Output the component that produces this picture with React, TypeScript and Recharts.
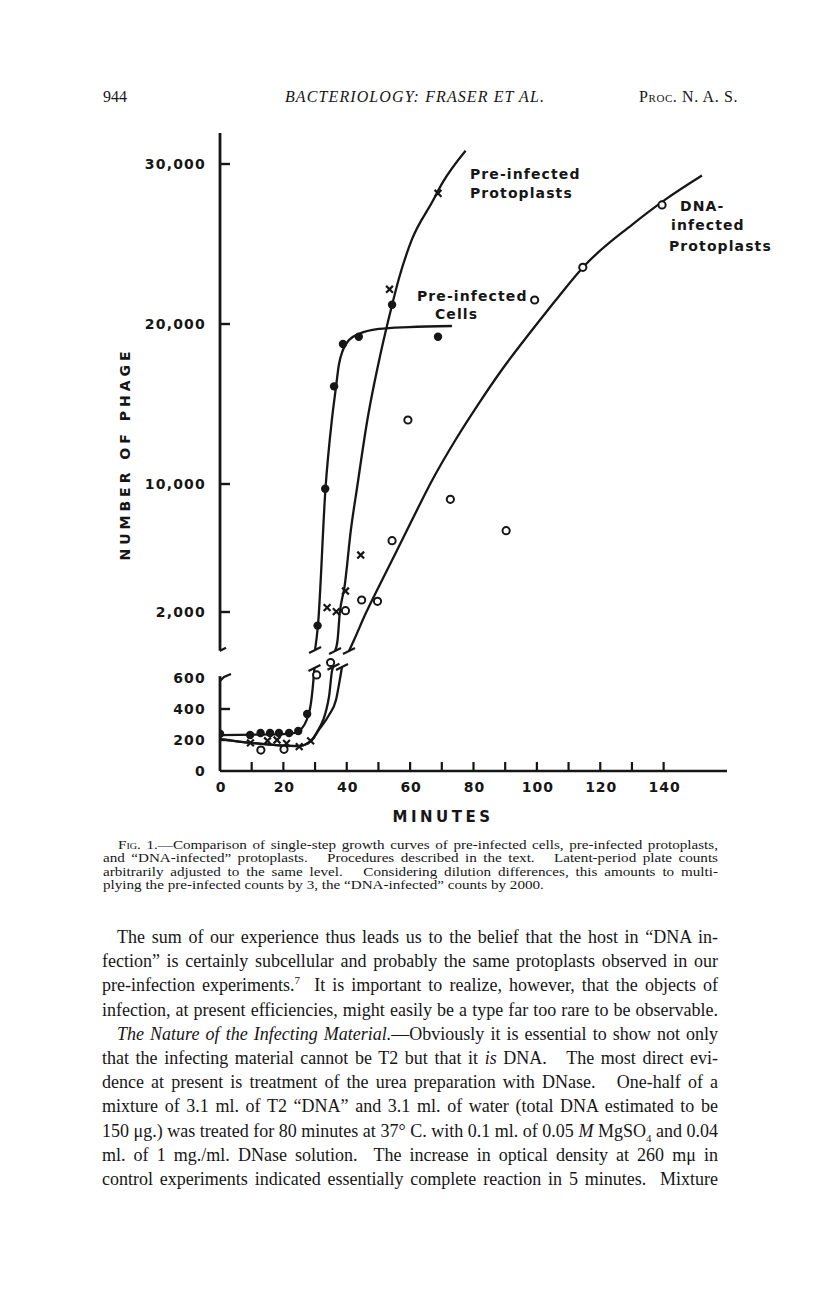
import React from "react";
import { ComposedChart, Line, Scatter, XAxis, YAxis, ReferenceLine } from "recharts";

const INK = "#161616";
const LETTER = '"DejaVu Sans", Verdana, sans-serif';
const SERIF = '"Liberation Serif", "Times New Roman", serif';

// axis ticks (minutes / number of phage)
const xTicks = [0, 10, 20, 30, 40, 50, 60, 70, 80, 90, 100, 110, 120, 130, 140];
const yTickValues = [0, 200, 400, 600, 2000, 10000, 20000, 30000];
const yTickLabels = ["0", "200", "400", "600", "2,000", "10,000", "20,000", "30,000"];

// measured points, lower panel (0..600) and upper panel (2,000..30,000)
const cellsLow = [
  { min: 0, n: 240 }, { min: 9.5, n: 232 }, { min: 12.8, n: 245 }, { min: 15.8, n: 245 },
  { min: 18.6, n: 245 }, { min: 21.8, n: 245 }, { min: 24.7, n: 258 }, { min: 27.5, n: 368 },
];
const cellsHigh = [
  { min: 30.8, n: 1150 }, { min: 33.2, n: 9700 }, { min: 36.0, n: 16100 }, { min: 38.8, n: 18750 },
  { min: 43.8, n: 19200 }, { min: 54.3, n: 21200 }, { min: 68.8, n: 19200 },
];
const protoLow = [
  { min: 9.6, n: 181 }, { min: 15, n: 195 }, { min: 18, n: 200 }, { min: 21, n: 178 },
  { min: 25, n: 157 }, { min: 28.6, n: 194 },
];
const protoHigh = [
  { min: 33.8, n: 2270 }, { min: 36.7, n: 2020 }, { min: 39.6, n: 3310 }, { min: 44.4, n: 5560 },
  { min: 53.5, n: 22170 }, { min: 68.8, n: 28170 },
];
const dnaLow = [{ min: 12.9, n: 135 }, { min: 20.2, n: 140 }, { min: 30.5, n: 620 }, { min: 34.9, n: 700 }];
const dnaHigh = [
  { min: 39.6, n: 2080 }, { min: 44.7, n: 2750 }, { min: 49.7, n: 2670 }, { min: 54.3, n: 6460 },
  { min: 59.3, n: 14000 }, { min: 72.7, n: 9040 }, { min: 90.3, n: 7080 }, { min: 99.3, n: 21500 },
  { min: 114.5, n: 23540 }, { min: 139.5, n: 27440 },
];

// hand-drawn fitted curves
const cellsCurveLow = [
  { min: 0, n: 232 }, { min: 21.8, n: 239 }, { min: 24.9, n: 258 }, { min: 28.1, n: 374 },
  { min: 29.2, n: 523 }, { min: 29.8, n: 665 },
];
const cellsCurveHigh = [
  { min: 30.0, n: -375 }, { min: 30.9, n: 1125 }, { min: 33.3, n: 9750 }, { min: 35.3, n: 14000 },
  { min: 36.6, n: 16060 }, { min: 37.5, n: 17440 }, { min: 38.8, n: 18375 }, { min: 40.7, n: 19000 },
  { min: 43.8, n: 19375 }, { min: 50.1, n: 19690 }, { min: 59.6, n: 19810 }, { min: 73.2, n: 19875 },
];
const protoCurveLow = [
  { min: 0, n: 206 }, { min: 24.9, n: 161 }, { min: 28.7, n: 194 }, { min: 30.4, n: 243 },
  { min: 34.4, n: 479 }, { min: 35.4, n: 652 }, { min: 35.8, n: 673 },
];
const protoCurveHigh = [
  { min: 36.3, n: -440 }, { min: 37.1, n: 250 }, { min: 37.8, n: 1940 }, { min: 39.3, n: 3580 },
  { min: 41.3, n: 7125 }, { min: 43.3, n: 9830 }, { min: 46.5, n: 14000 }, { min: 50.7, n: 18170 },
  { min: 54.3, n: 21190 }, { min: 56.4, n: 22800 }, { min: 60.6, n: 25300 }, { min: 67.0, n: 27640 },
  { min: 70.1, n: 28790 }, { min: 77.5, n: 30830 },
];
const dnaCurveLow = [
  { min: 0, n: 206 }, { min: 24.9, n: 161 }, { min: 28.7, n: 194 }, { min: 31.2, n: 265 },
  { min: 34.4, n: 361 }, { min: 36.6, n: 458 }, { min: 37.8, n: 587 }, { min: 38.5, n: 671 },
];
const dnaCurveHigh = [
  { min: 40.7, n: -440 }, { min: 42.3, n: 250 }, { min: 46.0, n: 1920 }, { min: 50.1, n: 3580 },
  { min: 55.4, n: 5670 }, { min: 60.6, n: 7750 }, { min: 67.0, n: 10250 }, { min: 74.3, n: 12750 },
  { min: 81.7, n: 15040 }, { min: 88.9, n: 17125 }, { min: 98.5, n: 19625 }, { min: 106.9, n: 21725 },
  { min: 115.3, n: 23700 }, { min: 130.0, n: 26200 }, { min: 140.5, n: 27775 }, { min: 152.1, n: 29283 },
];

// broken scale: both panels share one plotting unit
const lowD = (n: number) => n * 0.155;
const highD = (n: number) => 127 + n * 0.016;
const low = (pts: { min: number; n: number }[]) => pts.map((p) => ({ min: p.min, d: lowD(p.n) }));
const high = (pts: { min: number; n: number }[]) => pts.map((p) => ({ min: p.min, d: highD(p.n) }));
const yTickD = yTickValues.map((v, i) => (i < 4 ? lowD(v) : highD(v)));

const curveBreaks = [
  ...[cellsCurveLow, protoCurveLow, dnaCurveLow].map((c) => low([c[c.length - 1]])[0]),
  ...[cellsCurveHigh, protoCurveHigh, dnaCurveHigh].map((c) => high([c[0]])[0]),
];
const axisBreak = [{ min: 0, d: highD(-420) }];

const Dot = (p: any) => <circle cx={p.cx} cy={p.cy} r={4.2} fill={INK} />;
const Ring = (p: any) => <circle cx={p.cx} cy={p.cy} r={3.6} fill="#fff" stroke={INK} strokeWidth={2} />;
const Cross = (p: any) => {
  const s = 3.4;
  return (
    <path
      d={`M${p.cx - s},${p.cy - s}L${p.cx + s},${p.cy + s}M${p.cx + s},${p.cy - s}L${p.cx - s},${p.cy + s}`}
      stroke={INK}
      strokeWidth={2.2}
    />
  );
};
const Slash = (p: any) => (
  <line x1={p.cx - 6} y1={p.cy + 3} x2={p.cx + 6} y2={p.cy - 3} stroke={INK} strokeWidth={2.2} />
);

function XTick({ x, y, payload }: any) {
  const v = payload.value;
  return (
    <g>
      {v > 0 && <line x1={x} x2={x} y1={y} y2={y - 9} stroke={INK} strokeWidth={2.2} />}
      {v % 20 === 0 && (
        <text x={x + 1} y={y + 21} textAnchor="middle" fontFamily={LETTER} fontWeight="bold" fontSize={14}
          letterSpacing={1} fill={INK}>
          {v}
        </text>
      )}
    </g>
  );
}

function YTick({ x, y, payload }: any) {
  const i = yTickD.findIndex((d) => Math.abs(d - payload.value) < 0.01);
  const n = yTickValues[i];
  return (
    <g>
      {n === 600 ? (
        <path d={`M${x},${y + 3} L${x + 4},${y - 1} L${x + 11},${y - 4}`} fill="none" stroke={INK} strokeWidth={2.2} />
      ) : (
        n > 0 && <line x1={x} x2={x + 10} y1={y} y2={y} stroke={INK} strokeWidth={2.4} />
      )}
      <text x={x - 14} y={y} dy={5} textAnchor="end" fontFamily={LETTER} fontWeight="bold" fontSize={14}
        letterSpacing={1.2} fill={INK}>
        {yTickLabels[i]}
      </text>
    </g>
  );
}

const tag: React.CSSProperties = {
  position: "absolute",
  fontFamily: LETTER,
  fontWeight: "bold",
  fontSize: 14,
  letterSpacing: 1.1,
  lineHeight: "18px",
  whiteSpace: "nowrap",
  color: INK,
};

function Figure() {
  return (
    <div style={{ position: "absolute", left: 0, top: 0, width: 816, height: 850 }}>
      <ComposedChart width={816} height={850} margin={{ top: 133, right: 89, bottom: 39, left: 120 }}>
        <XAxis dataKey="min" type="number" domain={[0, 160]} allowDataOverflow ticks={xTicks} interval={0}
          height={40} tickSize={0} tickMargin={0} tick={<XTick />} axisLine={{ stroke: INK, strokeWidth: 2.6 }}
          tickLine={false} />
        <YAxis type="number" domain={[0, 638]} allowDataOverflow ticks={yTickD} interval={0} width={100}
          tickSize={0} tickMargin={0} tick={<YTick />} axisLine={false} tickLine={false} />
        <ReferenceLine segment={[{ x: 0, y: 0 }, { x: 0, y: lowD(612) }]} stroke={INK} strokeWidth={2.8} ifOverflow="visible" />
        <ReferenceLine segment={[{ x: 0, y: highD(-420) }, { x: 0, y: 638 }]} stroke={INK} strokeWidth={2.8} ifOverflow="visible" />

        <Line data={low(cellsCurveLow)} dataKey="d" type="monotone" stroke={INK} strokeWidth={2.3} dot={false} isAnimationActive={false} />
        <Line data={high(cellsCurveHigh)} dataKey="d" type="monotone" stroke={INK} strokeWidth={2.3} dot={false} isAnimationActive={false} />
        <Line data={low(protoCurveLow)} dataKey="d" type="monotone" stroke={INK} strokeWidth={2.3} dot={false} isAnimationActive={false} />
        <Line data={high(protoCurveHigh)} dataKey="d" type="monotone" stroke={INK} strokeWidth={2.3} dot={false} isAnimationActive={false} />
        <Line data={low(dnaCurveLow)} dataKey="d" type="monotone" stroke={INK} strokeWidth={2.3} dot={false} isAnimationActive={false} />
        <Line data={high(dnaCurveHigh)} dataKey="d" type="monotone" stroke={INK} strokeWidth={2.3} dot={false} isAnimationActive={false} />

        <Scatter data={curveBreaks} dataKey="d" shape={Slash} isAnimationActive={false} />
        <Scatter data={axisBreak} dataKey="d" shape={Slash} isAnimationActive={false} />
        <Scatter data={low(cellsLow)} dataKey="d" shape={Dot} isAnimationActive={false} />
        <Scatter data={high(cellsHigh)} dataKey="d" shape={Dot} isAnimationActive={false} />
        <Scatter data={low(protoLow)} dataKey="d" shape={Cross} isAnimationActive={false} />
        <Scatter data={high(protoHigh)} dataKey="d" shape={Cross} isAnimationActive={false} />
        <Scatter data={low(dnaLow)} dataKey="d" shape={Ring} isAnimationActive={false} />
        <Scatter data={high(dnaHigh)} dataKey="d" shape={Ring} isAnimationActive={false} />
      </ComposedChart>

      <div style={{ ...tag, left: 470, top: 165 }}>Pre-infected</div>
      <div style={{ ...tag, left: 470, top: 184 }}>Protoplasts</div>
      <div style={{ ...tag, left: 680, top: 197 }}>DNA-</div>
      <div style={{ ...tag, left: 671, top: 216 }}>infected</div>
      <div style={{ ...tag, left: 669, top: 237 }}>Protoplasts</div>
      <div style={{ ...tag, left: 417, top: 287 }}>Pre-infected</div>
      <div style={{ ...tag, left: 435, top: 305 }}>Cells</div>

      <div style={{ ...tag, left: -4, top: 444, width: 260, height: 20, textAlign: "center", letterSpacing: 4,
        transform: "rotate(-90deg)" }}>
        NUMBER OF PHAGE
      </div>
      <div style={{ ...tag, left: 343, top: 808, width: 200, textAlign: "center", fontSize: 15, letterSpacing: 3.5 }}>
        MINUTES
      </div>
    </div>
  );
}

const lineStyle: React.CSSProperties = { textAlign: "justify", textAlignLast: "justify", whiteSpace: "nowrap" };

function Caption() {
  const k = 1.12;
  const row = (content: React.ReactNode, indent = 0, last = false) => (
    <div style={{ ...lineStyle, paddingLeft: indent / k, textAlignLast: last ? "left" : "justify", height: 13.4 }}>
      {content}
    </div>
  );
  return (
    <div style={{ position: "absolute", left: 103, top: 838, width: 615 / k, fontFamily: SERIF, fontSize: 13.5,
      lineHeight: "13.4px", color: INK, transform: `scaleX(${k})`, transformOrigin: "0 0" }}>
      {row(<><span style={{ fontVariant: "small-caps" }}>Fig.</span> 1.—Comparison of single-step growth curves of pre-infected cells, pre-infected protoplasts,</>, 15)}
      {row(<>and “DNA-infected” protoplasts.&nbsp;&nbsp; Procedures described in the text.&nbsp;&nbsp; Latent-period plate counts</>)}
      {row(<>arbitrarily adjusted to the same level.&nbsp;&nbsp; Considering dilution differences, this amounts to multi-</>)}
      {row(<>plying the pre-infected counts by 3, the “DNA-infected” counts by 2000.</>, 0, true)}
    </div>
  );
}

function Body() {
  const row = (content: React.ReactNode, indent = 0) => (
    <div style={{ ...lineStyle, paddingLeft: indent, height: 24.2 }}>{content}</div>
  );
  return (
    <div style={{ position: "absolute", left: 102, top: 925, width: 616, fontFamily: SERIF, fontSize: 18,
      lineHeight: "24.2px", color: INK }}>
      {row(<>The sum of our experience thus leads us to the belief that the host in “DNA in-</>, 15)}
      {row(<>fection” is certainly subcellular and probably the same protoplasts observed in our</>)}
      {row(<>pre-infection experiments.<sup style={{ fontSize: 11, lineHeight: 0 }}>7</sup>&nbsp; It is important to realize, however, that the objects of</>)}
      {row(<>infection, at present efficiencies, might easily be a type far too rare to be observable.</>)}
      {row(<><i>The Nature of the Infecting Material.</i>—Obviously it is essential to show not only</>, 15)}
      {row(<>that the infecting material cannot be T2 but that it <i>is</i> DNA.&nbsp;&nbsp; The most direct evi-</>)}
      {row(<>dence at present is treatment of the urea preparation with DNase.&nbsp;&nbsp; One-half of a</>)}
      {row(<>mixture of 3.1 ml. of T2 “DNA” and 3.1 ml. of water (total DNA estimated to be</>)}
      {row(<>150 μg.) was treated for 80 minutes at 37° C. with 0.1 ml. of 0.05 <i>M</i> MgSO<sub style={{ fontSize: 11, lineHeight: 0 }}>4</sub> and 0.04</>)}
      {row(<>ml. of 1 mg./ml. DNase solution.&nbsp; The increase in optical density at 260 mμ in</>)}
      {row(<>control experiments indicated essentially complete reaction in 5 minutes.&nbsp; Mixture</>)}
    </div>
  );
}

function Header() {
  return (
    <div style={{ position: "absolute", left: 0, top: 87, width: 816, height: 20, fontFamily: SERIF, fontSize: 16,
      lineHeight: "20px", color: INK }}>
      <span style={{ position: "absolute", left: 103 }}>944</span>
      <span style={{ position: "absolute", left: 285, fontStyle: "italic", letterSpacing: 1.1 }}>
        BACTERIOLOGY: FRASER ET AL.
      </span>
      <span style={{ position: "absolute", right: 78, fontVariant: "small-caps", letterSpacing: 0.6 }}>Proc. N. A. S.</span>
    </div>
  );
}

export default function App() {
  return (
    <div style={{ position: "absolute", left: 0, top: 0, width: 816, height: 1300, background: "#fff" }}>
      <Header />
      <Figure />
      <Caption />
      <Body />
    </div>
  );
}
